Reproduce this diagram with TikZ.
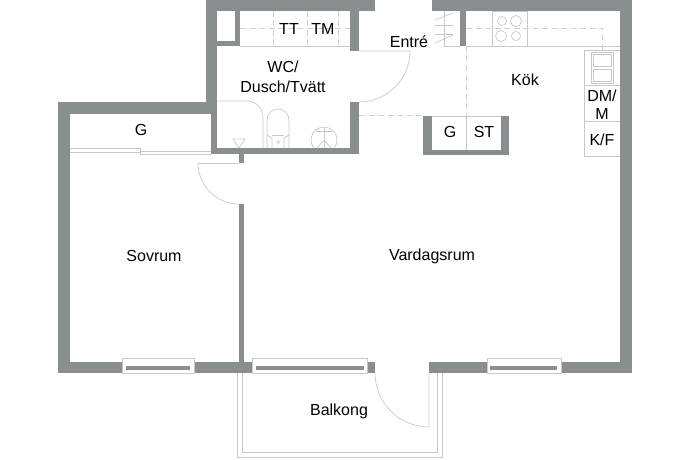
\documentclass[tikz,border=0pt]{standalone}
\usepackage{fontspec}
\setmainfont{Liberation Sans}
\usepackage{tikz}
\usetikzlibrary{scopes}
\definecolor{wallgray}{RGB}{137,142,145}
\definecolor{linegray}{RGB}{200,200,200}
\definecolor{dashgray}{RGB}{212,205,205}

\begin{document}
\begin{tikzpicture}[x=1pt,y=-1pt]
\useasboundingbox (0,0) rectangle (690,460);

\begin{scope}[every path/.style={fill=wallgray}]
    \path (206,0) rectangle (375,11);
    \path (432,0) rectangle (632,11);
    \path (620,0) rectangle (632,373);
    \path (206,0) rectangle (217,102);
    \path (235,11) rectangle (240,46);
    \path (217,41) rectangle (240,46);
    \path (58,102) rectangle (217,114);
    \path (211,102) rectangle (217,154);
    \path (212,148) rectangle (359,154);
    \path (350,11) rectangle (359,51);
    \path (350,102) rectangle (359,154);
    \path (460,11) rectangle (466,46);
    \path (58,102) rectangle (70,373);
    \path (58,362) rectangle (122,373);
    \path (194,362) rectangle (252,373);
    \path (367,362) rectangle (375,373);
    \path (429,362) rectangle (487,373);
    \path (561,362) rectangle (632,373);
    \path (239,154) rectangle (244,163);
    \path (239,204) rectangle (244,373);
    \path (423,116) rectangle (432,155);
    \path (423,150) rectangle (509,155);
    \path (501,116) rectangle (509,155);
\end{scope}

\begin{scope}[every path/.style={draw=linegray,line width=0.7pt}]
    \path (122,358) rectangle (194,373);
    \path (252,358) rectangle (367,373);
    \path (487,358) rectangle (561,373);
    \path (375,373) arc (180:90:54) -- (429,373);
    \path (242,373) -- (242,452) -- (437,452) -- (437,373);
    \path (237,373) -- (237,457) -- (442,457) -- (442,373);
    \path (198,163) -- (239,163);
    \path (198,163) arc (180:90:41);
    \path (359,51) -- (410,51) arc (0:90:51);
    \path (70,148) -- (140,148) -- (140,154.5) -- (211,154.5);
    \path (70,152) -- (140,152);
    \path (140,151) -- (211,151);
    \path (240,46) -- (350,46);
    \path (217,101) -- (247,101) arc (-90:0:16) -- (263,148);
    \path (233,139) -- (245,139) -- (239,148) -- cycle;
    \path (267,148) -- (267,120) arc (180:360:11) -- (289,148);
    \path (267,135) -- (272,138) -- (272,148);
    \path (289,135) -- (284,138) -- (284,148);
    \path (272,135.5) -- (284,135.5);
    \path (278,142) circle (1.5);
    \path (313.75,148) arc (142:398:13);
    \path (324,127) -- (324,148);
    \path (324,140) -- (317,148);
    \path (324,140) -- (331,148);
    \path (316,131) -- (332,131);
    \path (444,11) -- (444,46) -- (460,46);
    \path (435,20) -- (453,13);
    \path (435,25) -- (453,25);
    \path (435,34) -- (453,34);
    \path (435,43) -- (453,35);
    \path (466,46) -- (620,46);
    \path (492,11) rectangle (527,46);
    \path (502,21) circle (4.5);
    \path (516,21) circle (5.5);
    \path (501,36) circle (5.5);
    \path (516,36) circle (4.5);
    \path (584,50) -- (584,156) -- (620,156);
    \path (584,50) -- (620,50);
    \path (584,85) -- (620,85);
    \path (584,121) -- (620,121);
    \path (591,52) rectangle (613,83);
    \path (593,54) rectangle (611,66);
    \path (593,69) rectangle (611,81);
    \path (466,116) -- (466,150);
    \path (432,116) -- (501,116);
\end{scope}

\begin{scope}[every path/.style={draw=dashgray,line width=0.7pt,dash pattern=on 6pt off 3.5pt}]
    \path (240,28) -- (350,28);
    \path (273,11) -- (273,46);
    \path (307,11) -- (307,46);
    \path (338,11) -- (338,46);
    \path (359,115) -- (423,115);
    \path (466,46) -- (466,116);
    \path (466,28) -- (602,28) -- (602,50);
\end{scope}

\begin{scope}[every path/.style={fill=wallgray}]
    \path (126,366) rectangle (190,370);
    \path (256,366) rectangle (364,370);
    \path (490,366) rectangle (557,370);
\end{scope}

\begin{scope}[every node/.style={font=\fontsize{16}{16}\selectfont,inner sep=0pt,text=black}]
    \node (entre) at (409,42) {Entré};
    \node (kok) at (525,79.5) {Kök};
    \node (wc) at (283,66.5) {WC/};
    \node (dusch) at (283,86.5) {Dusch/Tvätt};
    \node (tt) at (289,29) {TT};
    \node (tm) at (323,29) {TM};
    \node (forrad) at (141,130) {G};
    \node (sovrum) at (154,255.5) {Sovrum};
    \node (vardagsrum) at (432,256.5) {Vardagsrum};
    \node (balkong) at (339,411.5) {Balkong};
    \node (garderob) at (450,132) {G};
    \node (st) at (484,132) {ST};
    \node (dm) at (602,95.5) {DM/};
    \node (m) at (602,114) {M};
    \node (kf) at (602,139.5) {K/F};
\end{scope}
\end{tikzpicture}
\end{document}
